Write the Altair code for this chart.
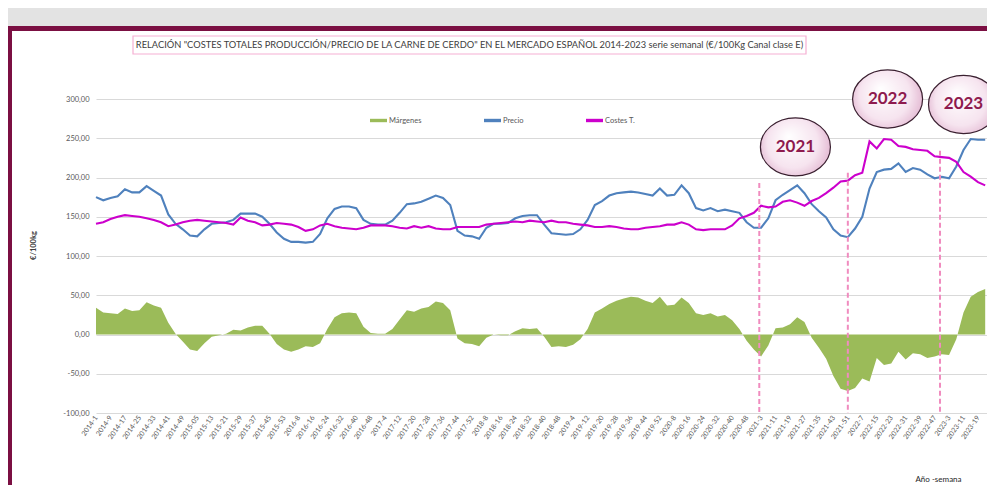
import altair as alt
import pandas as pd

# Weekly samples (every 4 weeks from 2014-1), values in EUR/100kg
price = [175, 171, 174, 176, 185, 181, 181, 189, 183, 177, 153, 141, 134, 126, 125, 134,
         141, 142, 143, 146, 154, 154, 154, 150, 141, 130, 122, 118, 118, 117, 118, 128,
         148, 160, 163, 163, 161, 146, 141, 140, 140, 145, 155, 166, 167, 169, 173, 177,
         174, 165, 132, 126, 125, 122, 136, 141, 141, 142, 148, 151, 152, 152, 140, 129,
         128, 127, 128, 134, 146, 165, 170, 177, 180, 181, 182, 181, 179, 177, 186, 177,
         178, 190, 180, 161, 158, 161, 157, 159, 157, 155, 143, 136, 136, 148, 171, 178,
         184, 190, 180, 166, 157, 149, 134, 126, 124, 135, 150, 186, 207, 210, 211, 218,
         207, 212, 210, 204, 199, 201, 199, 214, 235, 249, 248, 248]
cost = [141, 143, 147, 150, 152, 151, 150, 148, 146, 143, 138, 140, 143, 145, 146, 145,
        144, 143, 142, 140, 149, 145, 143, 139, 140, 142, 141, 140, 137, 132, 134, 139,
        141, 138, 136, 135, 134, 136, 139, 139, 139, 138, 136, 135, 138, 136, 138, 135,
        134, 134, 137, 137, 137, 137, 140, 141, 142, 143, 144, 143, 145, 144, 143, 145,
        143, 143, 141, 140, 139, 137, 137, 138, 137, 135, 134, 134, 136, 137, 138, 140,
        140, 143, 140, 134, 133, 134, 134, 134, 139, 148, 151, 155, 164, 162, 163, 169,
        171, 168, 164, 170, 174, 180, 187, 195, 196, 203, 206, 246, 237, 249, 248, 240,
        239, 236, 235, 234, 227, 226, 225, 220, 207, 201, 194, 190]
week_index = list(range(0, 4 * len(price), 4))

tick_labels = ["2014-1", "2014-9", "2014-17", "2014-25", "2014-33", "2014-41", "2014-49",
               "2015-05", "2015-13", "2015-21", "2015-29", "2015-37", "2015-45", "2015-53",
               "2016-8", "2016-16", "2016-24", "2016-32", "2016-40", "2016-48",
               "2017-4", "2017-12", "2017-20", "2017-28", "2017-36", "2017-44", "2017-52",
               "2018-8", "2018-16", "2018-24", "2018-32", "2018-40", "2018-48",
               "2019-4", "2019-12", "2019-20", "2019-28", "2019-36", "2019-44", "2019-52",
               "2020-8", "2020-16", "2020-24", "2020-32", "2020-40", "2020-48",
               "2021-3", "2021-11", "2021-19", "2021-27", "2021-35", "2021-43", "2021-51",
               "2022-7", "2022-15", "2022-23", "2022-31", "2022-39", "2022-47",
               "2023-3", "2023-11", "2023-19"]
y_ticks = [-100, -50, 0, 50, 100, 150, 200, 250, 300]

series_names = ["Márgenes", "Precio", "Costes T."]
series_colors = ["#9bbb59", "#4f81bd", "#cc00cc"]

bubble_years = ["2021", "2022", "2023"]
bubble_week = [387, 438, 480]
bubble_value = [239, 300, 293]

divider_week = [367, 416, 467]
divider_top = [193, 206, 234]

FONT = "Lato"
TITLE = ('RELACIÓN "COSTES TOTALES PRODUCCIÓN/PRECIO DE LA CARNE DE CERDO" EN EL MERCADO '
         'ESPAÑOL 2014-2023 serie semanal (€/100Kg Canal clase E)')

margin = [p - c for p, c in zip(price, cost)]
rows = []
for w, m, p, c in zip(week_index, margin, price, cost):
    rows.append({"week": w, "serie": "Márgenes", "value": m})
    rows.append({"week": w, "serie": "Precio", "value": p})
    rows.append({"week": w, "serie": "Costes T.", "value": c})
df = pd.DataFrame(rows)

bub = pd.DataFrame({"week": bubble_week, "value": bubble_value, "label": bubble_years})
div = pd.DataFrame({"week": divider_week, "value": divider_top, "bottom": [-100] * 3})

label_array = "[" + ",".join("'" + t + "'" for t in tick_labels) + "]"

xscale = alt.Scale(domain=[0, 493], nice=False, zero=False)
yscale = alt.Scale(domain=[-100, 300], nice=False)
cscale = alt.Scale(domain=series_names, range=series_colors)

x_axis = alt.Axis(
    values=list(range(0, 8 * len(tick_labels), 8)),
    labelExpr=label_array + "[round(datum.value/8)]",
    labelAngle=-55, labelAlign="right", labelBaseline="middle",
    labelFontSize=7, labelColor="#595959", labelFont=FONT, labelPadding=3,
    labelOverlap=False, labelBound=False, labelFlush=False,
    grid=False, domain=False, ticks=False,
    title="Año -semana", titleFont=FONT, titleFontSize=8, titleFontWeight="normal",
    titleColor="#262626", titleX=842, titleY=66, titleAlign="center",
    titleBaseline="middle", titleAnchor="start")
y_axis = alt.Axis(
    values=y_ticks,
    labelExpr="replace(replace(format(datum.value, '.2f'), '.', ','), '\u2212', '-')",
    labelFontSize=7.5, labelColor="#595959", labelFont=FONT, labelPadding=7,
    grid=True, gridColor="#d9d9d9", gridWidth=1, domain=False, ticks=False,
    title="€/100kg", titleFont=FONT, titleFontSize=7.5, titleFontWeight="bold",
    titleColor="#404040", titleX=-63, titleY=146, titleAngle=-90,
    titleAlign="center", titleBaseline="middle", titleAnchor="start")

X = alt.X("week:Q", scale=xscale, axis=x_axis)
Y = alt.Y("value:Q", scale=yscale, axis=y_axis)

legend = alt.Legend(orient="none", legendX=274, legendY=13, direction="horizontal",
                    title=None, symbolType="M-1,-0.2L1,-0.2L1,0.2L-1,0.2Z", symbolSize=289,
                    symbolStrokeWidth=0, labelFont=FONT, labelFontSize=7.5,
                    labelColor="#595959", labelOffset=2, columnPadding=62)

base = alt.Chart(df)
area = base.transform_filter("datum.serie == 'Márgenes'").mark_area(opacity=1).encode(
    x=X, y=Y, color=alt.Color("serie:N", scale=cscale, legend=legend))
line_p = base.transform_filter("datum.serie == 'Precio'").mark_line(strokeWidth=2.1).encode(
    x=X, y=Y, color=alt.Color("serie:N", scale=cscale, legend=legend))
line_c = base.transform_filter("datum.serie == 'Costes T.'").mark_line(strokeWidth=2.1).encode(
    x=X, y=Y, color=alt.Color("serie:N", scale=cscale, legend=legend))

dividers = alt.Chart(div).mark_rule(color="#f08cbf", strokeWidth=2, strokeDash=[5, 3]).encode(
    x=X, y=Y, y2="bottom:Q")

ellipse = "M-1,0 A1,0.83 0 1,1 1,0 A1,0.83 0 1,1 -1,0 Z"
grad = alt.RadialGradient(gradient="radial",
                          stops=[alt.GradientStop(offset=0, color="#ffffff"),
                                 alt.GradientStop(offset=0.6, color="#f6e4ef"),
                                 alt.GradientStop(offset=1, color="#dba6c6")],
                          x1=0.4, y1=0.35, x2=0.5, y2=0.5, r1=0, r2=0.6)
bubbles = alt.Chart(bub).mark_point(shape=ellipse, size=4900, filled=True, fill=grad,
                                    stroke="#3a2030", strokeWidth=1.2, opacity=1).encode(
    x=X, y=Y)
bubble_text = alt.Chart(bub).mark_text(font=FONT, fontSize=17, fontWeight="bold",
                                       color="#8e1a4e").encode(
    x=X, y=Y, text="label:N")

one = alt.Chart(pd.DataFrame({"k": [0]}))
gray_band = one.mark_rect(color="#e3e3e3").encode(
    x=alt.value(-88), x2=alt.value(891), y=alt.value(-91), y2=alt.value(-73))
maroon_band = one.mark_rect(color="#7b0f42").encode(
    x=alt.value(-88), x2=alt.value(891), y=alt.value(-73), y2=alt.value(-68))
maroon_left = one.mark_rect(color="#7b0f42").encode(
    x=alt.value(-88), x2=alt.value(-84), y=alt.value(-73), y2=alt.value(400))
title_box = one.mark_rect(fill="white", stroke="#f5b0d3", strokeWidth=1.2).encode(
    x=alt.value(37), x2=alt.value(710), y=alt.value(-63), y2=alt.value(-45))
title_text = one.mark_text(font=FONT, fontSize=9.3, color="#404040", align="center",
                           baseline="middle").encode(
    x=alt.value(373.5), y=alt.value(-54), text=alt.value(TITLE))

chart = alt.layer(area, gray_band, maroon_band, maroon_left, title_box, title_text,
                  line_p, line_c, dividers, bubbles, bubble_text).properties(
    width=891, height=314,
    autosize=alt.AutoSizeParams(type="none"),
    padding={"left": 88, "top": 91, "right": 0, "bottom": 72},
    background="white",
).configure_view(stroke=None).configure_axisX(labelOverlap=False)

chart.save("out.html", embed_options={"renderer": "svg", "actions": False})
